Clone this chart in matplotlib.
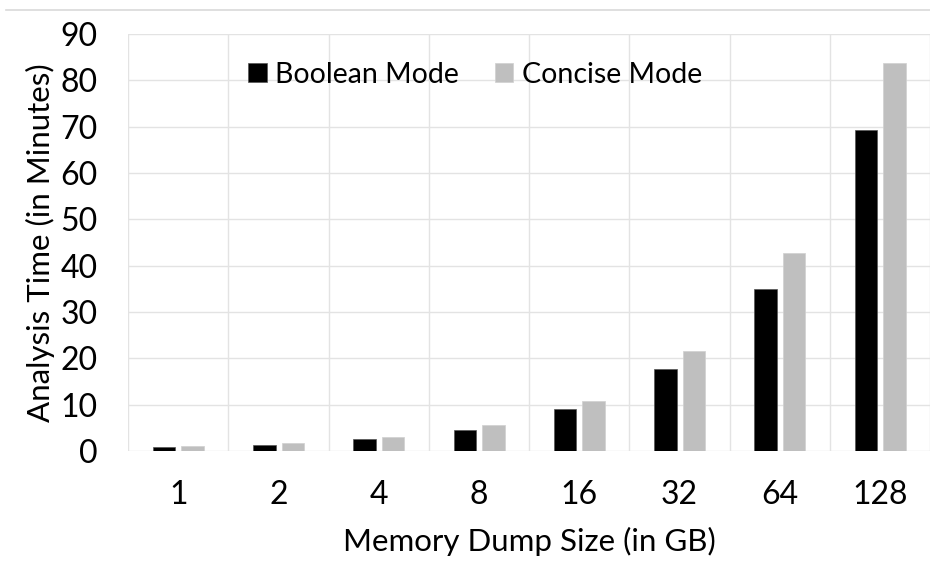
import matplotlib.pyplot as plt
import numpy as np
from matplotlib.lines import Line2D

plt.rcParams["font.family"] = ["Lato", "DejaVu Sans"]

sizes = ["1", "2", "4", "8", "16", "32", "64", "128"]
boolean_mode = [0.85, 1.4, 2.5, 4.6, 9.0, 17.6, 34.9, 69.2]
concise_mode = [1.0, 1.7, 3.0, 5.6, 10.7, 21.5, 42.7, 83.8]

fig = plt.figure(figsize=(9.3, 5.65), dpi=100)
ax = fig.add_axes([128 / 930, 114 / 565, 802 / 930, 417 / 565])

x = np.arange(len(sizes))
w = 0.223
ax.bar(x - 0.14, boolean_mode, w, color="black", edgecolor="#555555", linewidth=0.5,
       label="Boolean Mode", zorder=3)
ax.bar(x + 0.145, concise_mode, w, color="#bfbfbf", edgecolor="#d0d0d0", linewidth=0.5,
       label="Concise Mode", zorder=3)

ax.set_xlim(-0.5, len(sizes) - 0.5)
ax.set_ylim(0, 90)
ax.set_yticks(range(0, 91, 10))
ax.set_xticks(x)
ax.set_xticklabels(sizes)
ax.set_xticks(np.arange(-0.5, len(sizes), 1), minor=True)
ax.grid(axis="y", color="#e3e3e3", linewidth=1, zorder=0)
ax.grid(axis="x", which="minor", color="#e3e3e3", linewidth=1, zorder=0)
ax.tick_params(axis="both", which="both", length=0, labelsize=23)
ax.tick_params(axis="y", pad=22)
ax.tick_params(axis="x", pad=21)
for s in ax.spines.values():
    s.set_visible(False)

ax.set_xlabel("Memory Dump Size (in GB)", fontsize=22.5, labelpad=12)
ax.set_ylabel("Analysis Time (in Minutes)", fontsize=22.5, labelpad=4)

leg = ax.legend(loc="upper left", bbox_to_anchor=(0.118, 0.995), ncol=2, frameon=False,
                fontsize=20.5, handlelength=0.65, handleheight=0.65, handletextpad=0.3,
                columnspacing=1.25)

fig.add_artist(Line2D([6 / 930, 1], [1 - 10 / 565, 1 - 10 / 565], color="#d9d9d9",
                      linewidth=1.2, transform=fig.transFigure))

fig.savefig("out.png", dpi=100)
